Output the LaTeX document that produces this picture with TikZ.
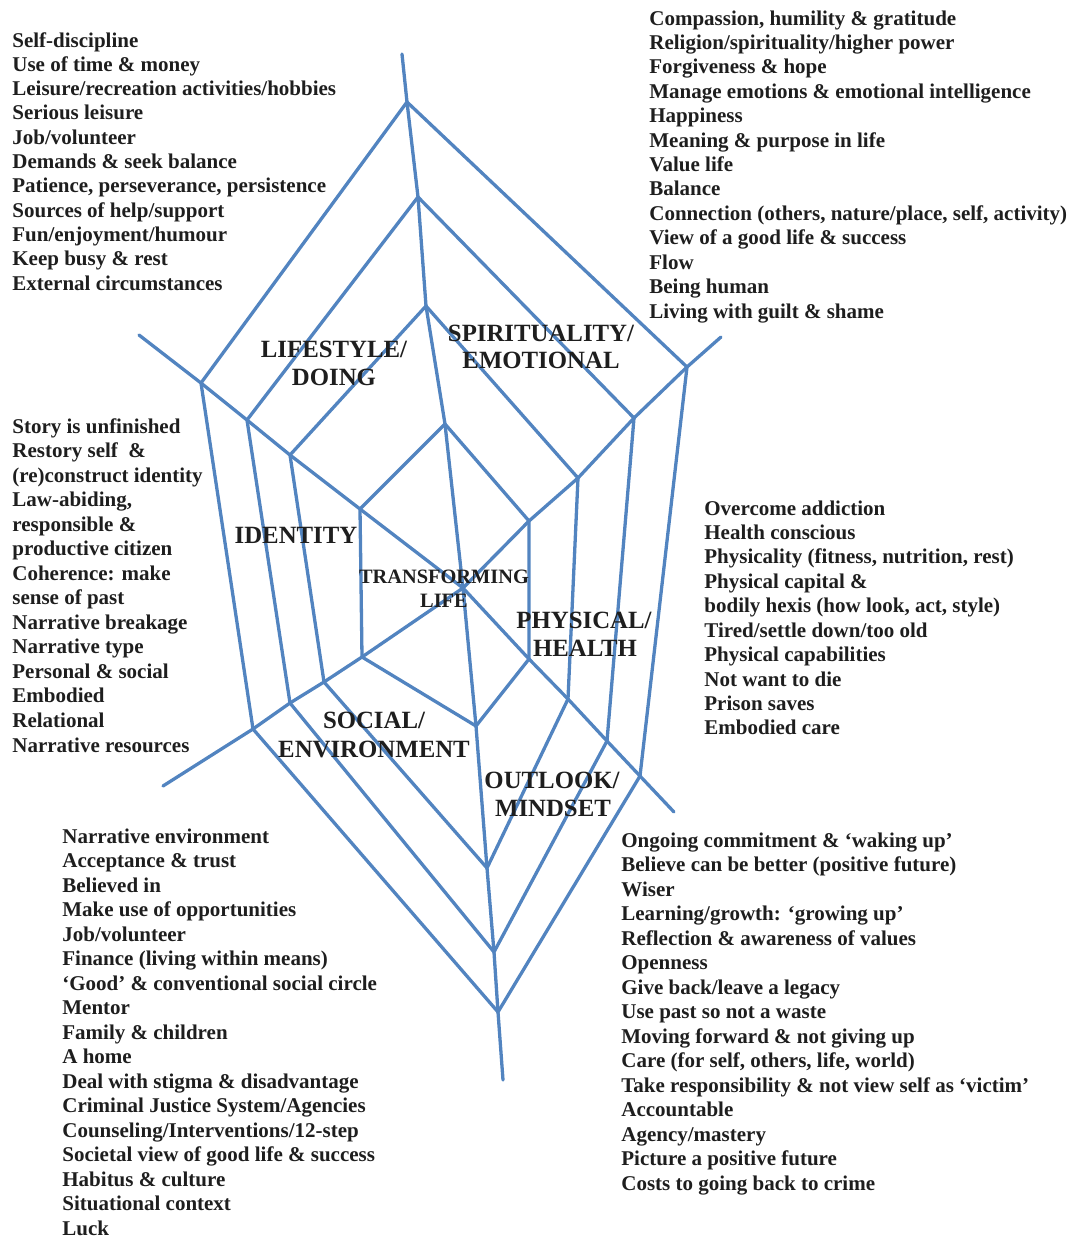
\documentclass[tikz,border=0pt]{standalone}
\usepackage{fontspec}
\setmainfont{Liberation Serif}
\definecolor{web}{RGB}{82,132,192}
\definecolor{ink}{RGB}{30,30,30}
\tikzset{
  webline/.style={draw=web, line width=1.65pt, line join=round, line cap=round},
  item/.style={anchor=base west, inner sep=0pt, text=ink, font=\fontsize{10.5}{12.25}\selectfont\bfseries},
  cat/.style={anchor=base, inner sep=0pt, text=ink, font=\fontsize{12.4}{14}\selectfont\bfseries},
  hub/.style={anchor=base, inner sep=0pt, text=ink, font=\fontsize{10.2}{12}\selectfont\bfseries},
}
\begin{document}
\begin{tikzpicture}[x=0.5pt,y=-0.5pt]
\useasboundingbox (0,0) rectangle (1073,1239);
% ---- web vertices ----
\coordinate (C) at (463,588);
\coordinate (T0) at (402,54);  \coordinate (T4) at (407,102); \coordinate (T3) at (418,197); \coordinate (T2) at (426,306); \coordinate (T1) at (445,424);
\coordinate (R0) at (721,337); \coordinate (R4) at (687,367); \coordinate (R3) at (634,418); \coordinate (R2) at (578,478); \coordinate (R1) at (529,521);
\coordinate (Q0) at (674,812); \coordinate (Q4) at (640,776); \coordinate (Q3) at (607,741); \coordinate (Q2) at (568,699); \coordinate (Q1) at (529,659);
\coordinate (B0) at (503,1080);\coordinate (B4) at (498,1012);\coordinate (B3) at (494,952); \coordinate (B2) at (487,868); \coordinate (B1) at (476,726);
\coordinate (P0) at (163,786); \coordinate (P4) at (253,729); \coordinate (P3) at (290,703); \coordinate (P2) at (324,682); \coordinate (P1) at (362,657);
\coordinate (L0) at (139,335); \coordinate (L4) at (201,383); \coordinate (L3) at (247,420); \coordinate (L2) at (290,455); \coordinate (L1) at (360,509);
% ---- spokes ----
\draw[webline] (T0) -- (T4) -- (T3) -- (T2) -- (T1) -- (C) -- (B1) -- (B2) -- (B3) -- (B4) -- (B0);
\draw[webline] (L0) -- (L4) -- (L3) -- (L2) -- (L1) -- (C) -- (Q1) -- (Q2) -- (Q3) -- (Q4) -- (Q0);
\draw[webline] (R0) -- (R4) -- (R3) -- (R2) -- (R1) -- (C) -- (P1) -- (P2) -- (P3) -- (P4) -- (P0);
% ---- rings ----
\foreach \k in {1,2,3,4}{
  \draw[webline] (T\k) -- (R\k) -- (Q\k) -- (B\k) -- (P\k) -- (L\k) -- cycle;
}
% ---- category labels ----
\node[cat] (life1) at (334,357) {LIFESTYLE/};
\node[cat] (life2) at (334,385) {DOING};
\node[cat] (spir1) at (541,341) {SPIRITUALITY/};
\node[cat] (spir2) at (541,368) {EMOTIONAL};
\node[cat] (ident) at (296,543) {IDENTITY};
\node[hub] (hub1) at (444,583) {TRANSFORMING};
\node[hub] (hub2) at (444,607) {LIFE};
\node[cat] (phys1) at (584,628) {PHYSICAL/};
\node[cat] (phys2) at (585,656) {HEALTH};
\node[cat] (soc1) at (374,728) {SOCIAL/};
\node[cat] (soc2) at (374,757) {ENVIRONMENT};
\node[cat] (out1) at (552,788) {OUTLOOK/};
\node[cat] (out2) at (553,816) {MINDSET};
% ---- item lists ----
\foreach \t [count=\i] in {Self-discipline, Use of time \& money, Leisure/recreation activities/hobbies, Serious leisure, Job/volunteer, Demands \& seek balance, {Patience, perseverance, persistence}, Sources of help/support, Fun/enjoyment/humour, Keep busy \& rest, External circumstances}
  \node[item] (lsd\i) at (12,{47+24.3*(\i-1)}) {\t};
\foreach \t [count=\i] in {{Compassion, humility \& gratitude}, Religion/spirituality/higher power, Forgiveness \& hope, Manage emotions \& emotional intelligence, Happiness, Meaning \& purpose in life, Value life, Balance, {Connection (others, nature/place, self, activity)}, View of a good life \& success, Flow, Being human, Living with guilt \& shame}
  \node[item] (spe\i) at (649,{25+24.42*(\i-1)}) {\t};
\foreach \t [count=\i] in {Story is unfinished, Restory self\ \ \&, (re)construct identity, {Law-abiding,}, responsible \&, productive citizen, Coherence: make, sense of past, Narrative breakage, Narrative type, Personal \& social, Embodied, Relational, Narrative resources}
  \node[item] (idn\i) at (12,{433+24.54*(\i-1)}) {\t};
\foreach \t [count=\i] in {Overcome addiction, Health conscious, {Physicality (fitness, nutrition, rest)}, Physical capital \&, {bodily hexis (how look, act, style)}, Tired/settle down/too old, Physical capabilities, Not want to die, Prison saves, Embodied care}
  \node[item] (phy\i) at (704,{515+24.44*(\i-1)}) {\t};
\foreach \t [count=\i] in {Narrative environment, Acceptance \& trust, Believed in, Make use of opportunities, Job/volunteer, Finance (living within means), ‘Good’ \& conventional social circle, Mentor, Family \& children, A home, Deal with stigma \& disadvantage, Criminal Justice System/Agencies, Counseling/Interventions/12-step, Societal view of good life \& success, Habitus \& culture, Situational context, Luck}
  \node[item] (soc\i) at (62,{843+24.5*(\i-1)}) {\t};
\foreach \t [count=\i] in {Ongoing commitment \& ‘waking up’, Believe can be better (positive future), Wiser, Learning/growth: ‘growing up’, Reflection \& awareness of values, Openness, Give back/leave a legacy, Use past so not a waste, Moving forward \& not giving up, {Care (for self, others, life, world)}, Take responsibility \& not view self as ‘victim’, Accountable, Agency/mastery, Picture a positive future, Costs to going back to crime}
  \node[item] (out\i) at (621,{847+24.5*(\i-1)}) {\t};
\end{tikzpicture}
\end{document}
